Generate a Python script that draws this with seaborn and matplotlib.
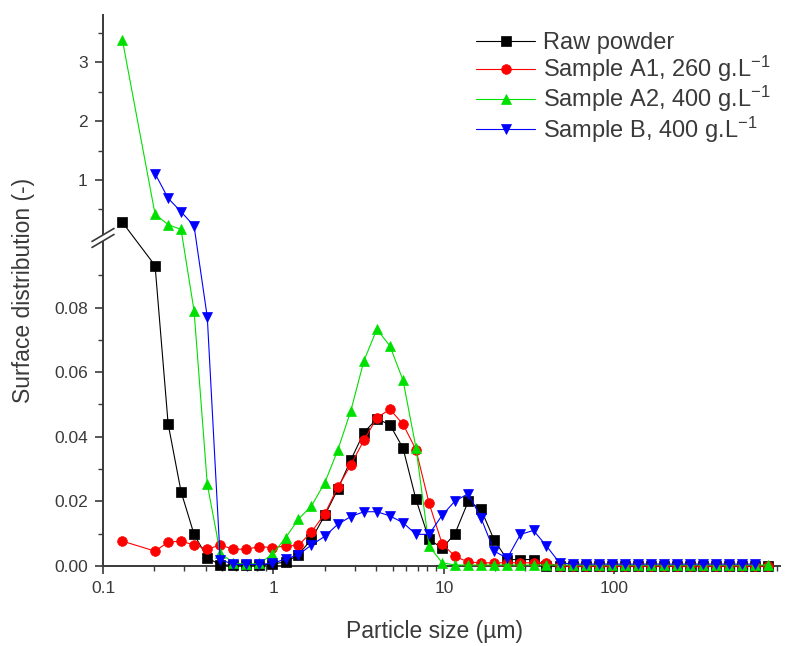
import numpy as np
import pandas as pd
import seaborn as sns
import matplotlib.pyplot as plt
from matplotlib.ticker import FixedLocator, FuncFormatter, LogLocator, NullFormatter
from matplotlib.patches import Polygon

# ── Data ─────────────────────────────────────────────────────────────────────
sizes = [0.13, 0.202, 0.241, 0.287, 0.342, 0.409, 0.487, 0.581, 0.693, 0.827,
         0.986, 1.18, 1.40, 1.67, 2.00, 2.38, 2.84, 3.39, 4.04, 4.82,
         5.75, 6.85, 8.17, 9.75, 11.6, 13.9, 16.5, 19.7, 23.5, 28.1,
         33.5, 39.9, 47.6, 56.8, 67.8, 80.8, 96.4, 115, 137, 164,
         195, 233, 277, 331, 395, 471, 562, 670, 799]

raw_powder = [0.28, 0.093, 0.044, 0.023, 0.0098, 0.0026, 0.0003, 0.0003, 0.0003, 0.0003,
              0.0007, 0.0012, 0.0035, 0.0083, 0.0157, 0.0237, 0.0328, 0.0413, 0.0456, 0.0437,
              0.0365, 0.0206, 0.0083, 0.0055, 0.0100, 0.0201, 0.0175, 0.0080, 0.0020, 0.0020,
              0.0020, 0, 0, 0, 0, 0, 0, 0, 0, 0,
              0, 0, 0, 0, 0, 0, 0, 0, 0]

sample_a1 = [0.0077, 0.0046, 0.0074, 0.0077, 0.0065, 0.0052, 0.0065, 0.0052, 0.0052, 0.0060,
             0.0057, 0.0062, 0.0064, 0.0105, 0.0162, 0.0243, 0.0313, 0.0389, 0.0459, 0.0485,
             0.0439, 0.0360, 0.0195, 0.0069, 0.0030, 0.0012, 0.0010, 0.0010, 0.0010, 0.0010,
             0.0010, 0.0010, 0, 0, 0, 0, 0, 0, 0, 0,
             0, 0, 0, 0, 0, 0, 0, 0, 0]

sample_a2 = [3.38, 0.42, 0.24, 0.16, 0.079, 0.0253, 0.004, 0.001, 0.0005, 0.0008,
             0.0036, 0.0088, 0.0145, 0.0186, 0.0258, 0.0358, 0.048, 0.0635, 0.0733, 0.0681,
             0.0575, 0.0366, 0.0062, 0.0010, 0.0003, 0.0003, 0.0003, 0.0003, 0.0003, 0.0003,
             0.0003, 0.0003, 0.0003, 0.0003, 0.0003, 0.0003, 0.0003, 0.0003, 0.0003, 0.0003,
             0.0003, 0.0003, 0.0003, 0.0003, 0.0003, 0.0003, 0.0003, 0.0003, 0.0003]

sample_b = [np.nan, 1.11, 0.69, 0.46, 0.22, 0.077, 0.002, 0.0005, 0.0005, 0.0005,
            0.0008, 0.0022, 0.0035, 0.0065, 0.0092, 0.0129, 0.0153, 0.0168, 0.0168, 0.0155,
            0.0134, 0.0098, 0.0098, 0.0157, 0.0201, 0.0224, 0.0148, 0.0046, 0.0024, 0.0098,
            0.0110, 0.0062, 0.0010, 0.0006, 0.0006, 0.0006, 0.0006, 0.0006, 0.0006, 0.0006,
            0.0006, 0.0006, 0.0006, 0.0006, 0.0006, 0.0006, 0.0006, 0.0006, np.nan]

labels = ["Raw powder",
          "Sample A1, 260 g.L$^{-1}$",
          "Sample A2, 400 g.L$^{-1}$",
          "Sample B, 400 g.L$^{-1}$"]

# ── Styling ───────────────────────────────────────────────────────────────────
colors  = ["#000000", "#ff0000", "#00e000", "#0000ff"]
markers = ["s", "o", "^", "v"]
TEXT_C  = "#3a3a3a"

sns.set_style("ticks")
plt.rcParams["font.family"] = ["Liberation Sans", "DejaVu Sans"]
plt.rcParams["mathtext.default"] = "regular"

# broken y axis: 0-0.1 stretched, 0.1-3.8 compressed (units ~ pixels)
Y_BREAK  = 0.1
LOW_PX   = 3230.0
UP_PX    = 58.8
GAP      = 10.0
LOW_TOP  = Y_BREAK * LOW_PX
Y_MAX    = 3.806


def fwd(y):
    y = np.asarray(y, dtype=float)
    return np.where(y <= Y_BREAK, y * LOW_PX, LOW_TOP + GAP + (y - Y_BREAK) * UP_PX)


def inv(u):
    u = np.asarray(u, dtype=float)
    return np.where(u <= LOW_TOP, u / LOW_PX,
                    np.where(u >= LOW_TOP + GAP, Y_BREAK + (u - LOW_TOP - GAP) / UP_PX, Y_BREAK))


df = pd.DataFrame({"size": sizes, "raw": raw_powder, "a1": sample_a1,
                   "a2": sample_a2, "b": sample_b})

fig = plt.figure(figsize=(7.87, 6.46), dpi=100)
ax = fig.add_axes([103 / 787, 80 / 646, 677 / 787, 551 / 646])

for col, lab, c, m in zip(["raw", "a1", "a2", "b"], labels, colors, markers):
    sub = df[["size", col]].dropna()
    sns.lineplot(data=sub, x="size", y=col, ax=ax, color=c, marker=m,
                 markersize=7, markeredgecolor=c, markeredgewidth=0.5,
                 linewidth=0.8, label=lab, sort=False, estimator=None,
                 clip_on=False, zorder=3)

ax.set_xscale("log")
ax.set_xlim(0.1, 935)
ax.set_yscale("function", functions=(fwd, inv))
ax.set_ylim(0, Y_MAX)

ax.xaxis.set_major_locator(FixedLocator([0.1, 1, 10, 100]))
ax.xaxis.set_major_formatter(FuncFormatter(lambda v, _: f"{v:g}"))
ax.xaxis.set_minor_locator(LogLocator(base=10, subs=np.arange(2, 10)))
ax.xaxis.set_minor_formatter(NullFormatter())

ax.yaxis.set_major_locator(FixedLocator([0, 0.02, 0.04, 0.06, 0.08, 1, 2, 3]))
ax.yaxis.set_major_formatter(FuncFormatter(lambda v, _: f"{v:.2f}" if v < Y_BREAK else f"{v:.0f}"))
ax.yaxis.set_minor_locator(FixedLocator([0.01, 0.03, 0.05, 0.07, 0.09, 0.5, 1.5, 2.5, 3.5]))
ax.yaxis.set_minor_formatter(NullFormatter())

ax.tick_params(which="major", direction="out", length=6, width=1.2, colors=TEXT_C,
               labelsize=12.5, pad=5)
ax.tick_params(which="minor", direction="out", length=3.5, width=1.0, colors=TEXT_C)
for side in ["left", "bottom"]:
    ax.spines[side].set_color(TEXT_C)
    ax.spines[side].set_linewidth(1.4)
sns.despine(ax=ax)

ax.set_xlabel("Particle size (\u00b5m)", fontsize=16.5, color=TEXT_C)
ax.set_ylabel("Surface distribution (-)", fontsize=16.5, color=TEXT_C)
ax.xaxis.set_label_coords(0.49, -0.098)
ax.yaxis.set_label_coords(-0.1, 0.5)

# ── Axis break marks on the left spine ───────────────────────────────────────
w_px, h_px = ax.bbox.width, ax.bbox.height
total_u = float(fwd(Y_MAX))
lo_f = (LOW_TOP + 2) / total_u
hi_f = (LOW_TOP + GAP - 2) / total_u
dx, dy = 11 / w_px, 6.5 / h_px
cover = Polygon([(-dx, lo_f - dy), (dx, lo_f + dy), (dx, hi_f + dy), (-dx, hi_f - dy)],
                closed=True, transform=ax.transAxes, facecolor="white",
                edgecolor="none", clip_on=False, zorder=4)
ax.add_patch(cover)
for f in (lo_f, hi_f):
    ax.plot([-dx, dx], [f - dy, f + dy], transform=ax.transAxes, color=TEXT_C,
            linewidth=1.2, clip_on=False, zorder=5)

leg = ax.legend(loc="upper left", bbox_to_anchor=(476 / 787, 1 - 32 / 646),
                bbox_transform=fig.transFigure, frameon=False, fontsize=17,
                handlelength=2.5, labelspacing=0.0, handletextpad=0.35,
                borderpad=0, borderaxespad=0)
for t in leg.get_texts():
    t.set_color(TEXT_C)

fig.savefig("out.png", dpi=100)
